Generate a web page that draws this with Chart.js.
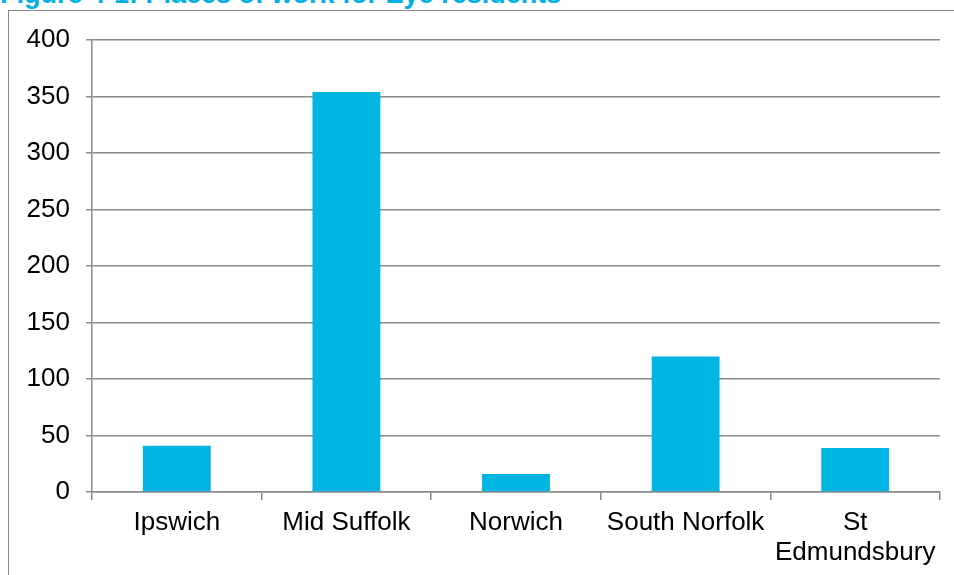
<!DOCTYPE html>
<html>
<head>
<meta charset="utf-8">
<script src="https://cdn.jsdelivr.net/npm/chart.js@4"></script>
<style>
html,body{margin:0;padding:0;background:#fff;overflow:hidden;}
#wrap{position:relative;width:954px;height:575px;overflow:hidden;}
#title{position:absolute;left:0;top:-19px;font:bold 27px "Liberation Sans",Arial,sans-serif;color:#00B0E0;white-space:nowrap;line-height:27px;}
#frame{position:absolute;left:8px;top:10px;width:1000px;height:600px;border-left:1.5px solid #8a8a8a;border-top:1.5px solid #8a8a8a;}
#c{position:absolute;left:0;top:0;}
</style>
</head>
<body>
<div id="wrap">
<div id="title">Figure 4-1: Places of work for Eye residents</div>
<div id="frame"></div>
<canvas id="c" width="954" height="575"></canvas>
</div>
<script>
const categories = ['Ipswich', 'Mid Suffolk', 'Norwich', 'South Norfolk', ['St', 'Edmundsbury']];
const workers = [41, 354, 16, 120, 39];
const yTicks = [0, 50, 100, 150, 200, 250, 300, 350, 400];

const font = {family: '"Liberation Sans", Arial, sans-serif', size: 26, lineHeight: 1.15};
new Chart(document.getElementById('c'), {
  type: 'bar',
  data: {
    labels: categories,
    datasets: [{data: workers, backgroundColor: '#00B5E2', borderWidth: 0, barPercentage: 0.4, categoryPercentage: 1}]
  },
  options: {
    responsive: false,
    animation: false,
    devicePixelRatio: 1,
    layout: {padding: {left: 0, right: 14, top: 40, bottom: 0}},
    plugins: {legend: {display: false}, title: {display: false}, tooltip: {enabled: false}},
    scales: {
      x: {
        grid: {offset: true, drawOnChartArea: false, drawTicks: true, tickLength: 8, color: '#8a8a8a', lineWidth: 1.5},
        border: {color: '#8a8a8a', width: 1.5},
        ticks: {color: '#000', font: font, padding: 8, maxRotation: 0, autoSkip: false},
        afterFit: s => { s.height = 83; }
      },
      y: {
        min: 0, max: 400,
        afterBuildTicks: s => { s.ticks = yTicks.map(v => ({value: v})); },
        grid: {color: '#8a8a8a', lineWidth: 1.5, tickLength: 6},
        border: {color: '#8a8a8a', width: 1.5},
        ticks: {color: '#000', font: font, padding: 16},
        afterFit: s => { s.width = 92; }
      }
    }
  }
});
</script>
</body>
</html>
